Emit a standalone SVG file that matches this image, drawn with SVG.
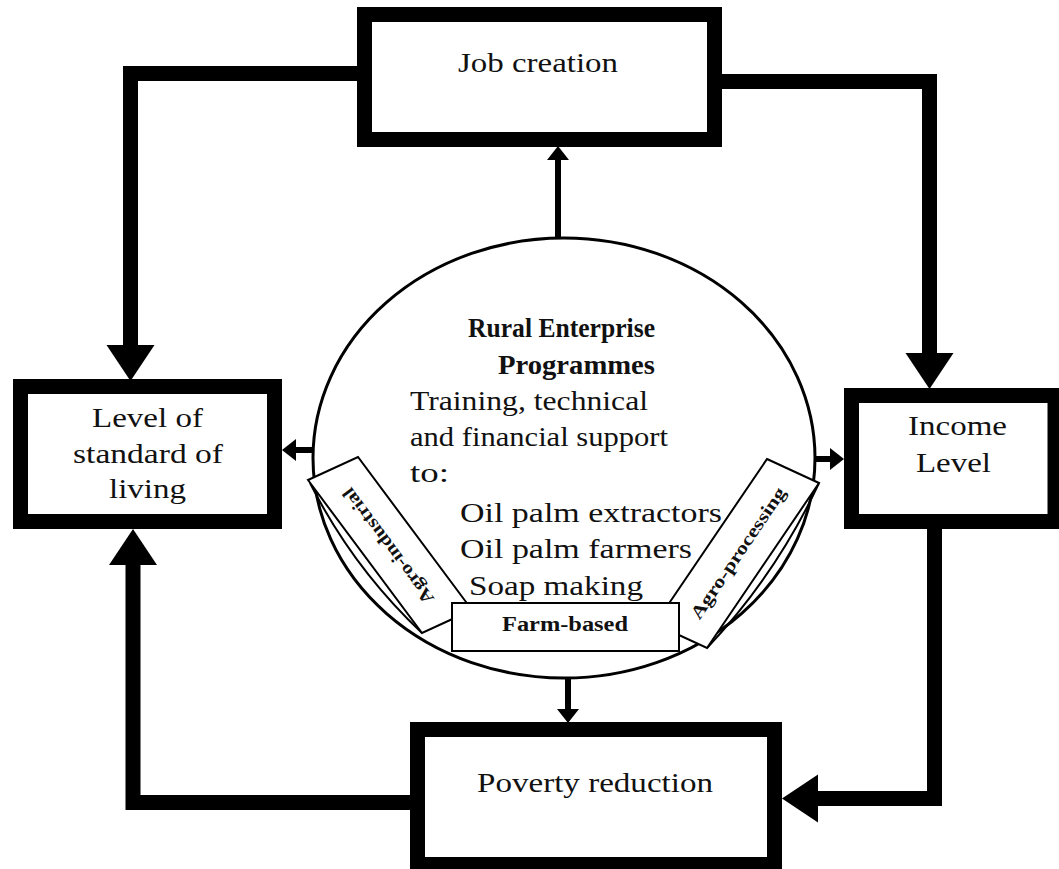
<svg xmlns="http://www.w3.org/2000/svg" width="1059" height="869" viewBox="0 0 1059 869">
<defs>
<style>
.box{fill:#fff;stroke:#000;stroke-width:15}
.t{font-family:"Liberation Serif","Times New Roman",serif;font-size:28px;fill:#111}
.b{font-weight:bold}
.small{fill:#fff;stroke:#000;stroke-width:2}
.thick{fill:none;stroke:#000;stroke-width:15;stroke-linejoin:miter}
.thin{fill:none;stroke:#000;stroke-width:6}
</style>
<marker id="big" markerUnits="userSpaceOnUse" markerWidth="36" markerHeight="48" refX="0" refY="24" orient="auto" overflow="visible">
<path d="M0,0 L36,24 L0,48 Z" fill="#000"/>
</marker>
<marker id="small" markerUnits="userSpaceOnUse" markerWidth="14" markerHeight="22" refX="0" refY="11" orient="auto" overflow="visible">
<path d="M0,0 L14,11 L0,22 Z" fill="#000"/>
</marker>
</defs>
<rect width="1059" height="869" fill="#fff"/>
<g id="connectors">
<path class="thick" d="M357,73.5 H130.5 V345" marker-end="url(#big)"/>
<path class="thick" d="M722,81.5 H929.5 V353" marker-end="url(#big)"/>
<path class="thick" d="M934.5,529 V798.5 H818" marker-end="url(#big)"/>
<path class="thick" d="M410,802.5 H133 V565" marker-end="url(#big)"/>
<path class="thin" d="M558,238 V160" marker-end="url(#small)"/>
<path class="thin" d="M313,450 H296" marker-end="url(#small)"/>
<path class="thin" d="M815,459 H830" marker-end="url(#small)"/>
<path class="thin" d="M568,678 V709" marker-end="url(#small)"/>
</g>
<g id="job-creation">
<rect class="box" x="364.5" y="14.5" width="350" height="125"/>
<text class="t" x="458" y="72" textLength="160" lengthAdjust="spacingAndGlyphs">Job creation</text>
</g>
<g id="level-of-living">
<rect class="box" x="20.5" y="386.5" width="254" height="135"/>
<text class="t" x="92" y="427" textLength="111" lengthAdjust="spacingAndGlyphs">Level of</text>
<text class="t" x="73" y="463" textLength="150" lengthAdjust="spacingAndGlyphs">standard of</text>
<text class="t" x="109" y="498" textLength="77" lengthAdjust="spacingAndGlyphs">living</text>
</g>
<g id="income-level">
<rect class="box" x="851.5" y="395.5" width="203.5" height="126"/>
<text class="t" x="908" y="435" textLength="99" lengthAdjust="spacingAndGlyphs">Income</text>
<text class="t" x="916" y="472" textLength="75" lengthAdjust="spacingAndGlyphs">Level</text>
</g>
<g id="poverty-reduction">
<rect class="box" x="417.5" y="729.5" width="357" height="135"/>
<text class="t" x="477" y="792" textLength="236" lengthAdjust="spacingAndGlyphs">Poverty reduction</text>
</g>
<g id="rural-enterprise">
<ellipse cx="564" cy="458" rx="251" ry="220" fill="#fff" stroke="#000" stroke-width="3"/>
<path d="M310,483 Q353,568 422,633" fill="none" stroke="#000" stroke-width="2"/>
<path d="M819,483 Q776,575 707,648" fill="none" stroke="#000" stroke-width="2"/>
<text class="t b" x="468" y="337" textLength="187" lengthAdjust="spacingAndGlyphs">Rural Enterprise</text>
<text class="t b" x="498" y="374" textLength="157" lengthAdjust="spacingAndGlyphs">Programmes</text>
<text class="t" x="410" y="410" textLength="238" lengthAdjust="spacingAndGlyphs">Training, technical</text>
<text class="t" x="410" y="446" textLength="258" lengthAdjust="spacingAndGlyphs">and financial support</text>
<text class="t" x="410" y="482" textLength="39" lengthAdjust="spacingAndGlyphs">to:</text>
<text class="t" x="460" y="522" textLength="262" lengthAdjust="spacingAndGlyphs">Oil palm extractors</text>
<text class="t" x="460" y="558" textLength="232" lengthAdjust="spacingAndGlyphs">Oil palm farmers</text>
<text class="t" x="469" y="595" textLength="174" lengthAdjust="spacingAndGlyphs">Soap making</text>
</g>
<g id="agro-industrial">
<polygon class="small" points="308,480 358,457 472,610 422,633"/>
<text class="t b" style="font-size:18px" text-anchor="middle" transform="translate(388,546) rotate(233.3)" y="6" textLength="140" lengthAdjust="spacingAndGlyphs">Agro-industrial</text>
</g>
<g id="agro-processing">
<polygon class="small" points="767,459 819,483 707,648 655,624"/>
<text class="t b" style="font-size:18px" text-anchor="middle" transform="translate(738,553) rotate(-55.8)" y="6" textLength="155" lengthAdjust="spacingAndGlyphs">Agro-processing</text>
</g>
<g id="farm-based">
<rect class="small" x="452" y="603" width="227" height="48"/>
<text class="t b" style="font-size:20px" x="502" y="631" textLength="126" lengthAdjust="spacingAndGlyphs">Farm-based</text>
</g>
</svg>
